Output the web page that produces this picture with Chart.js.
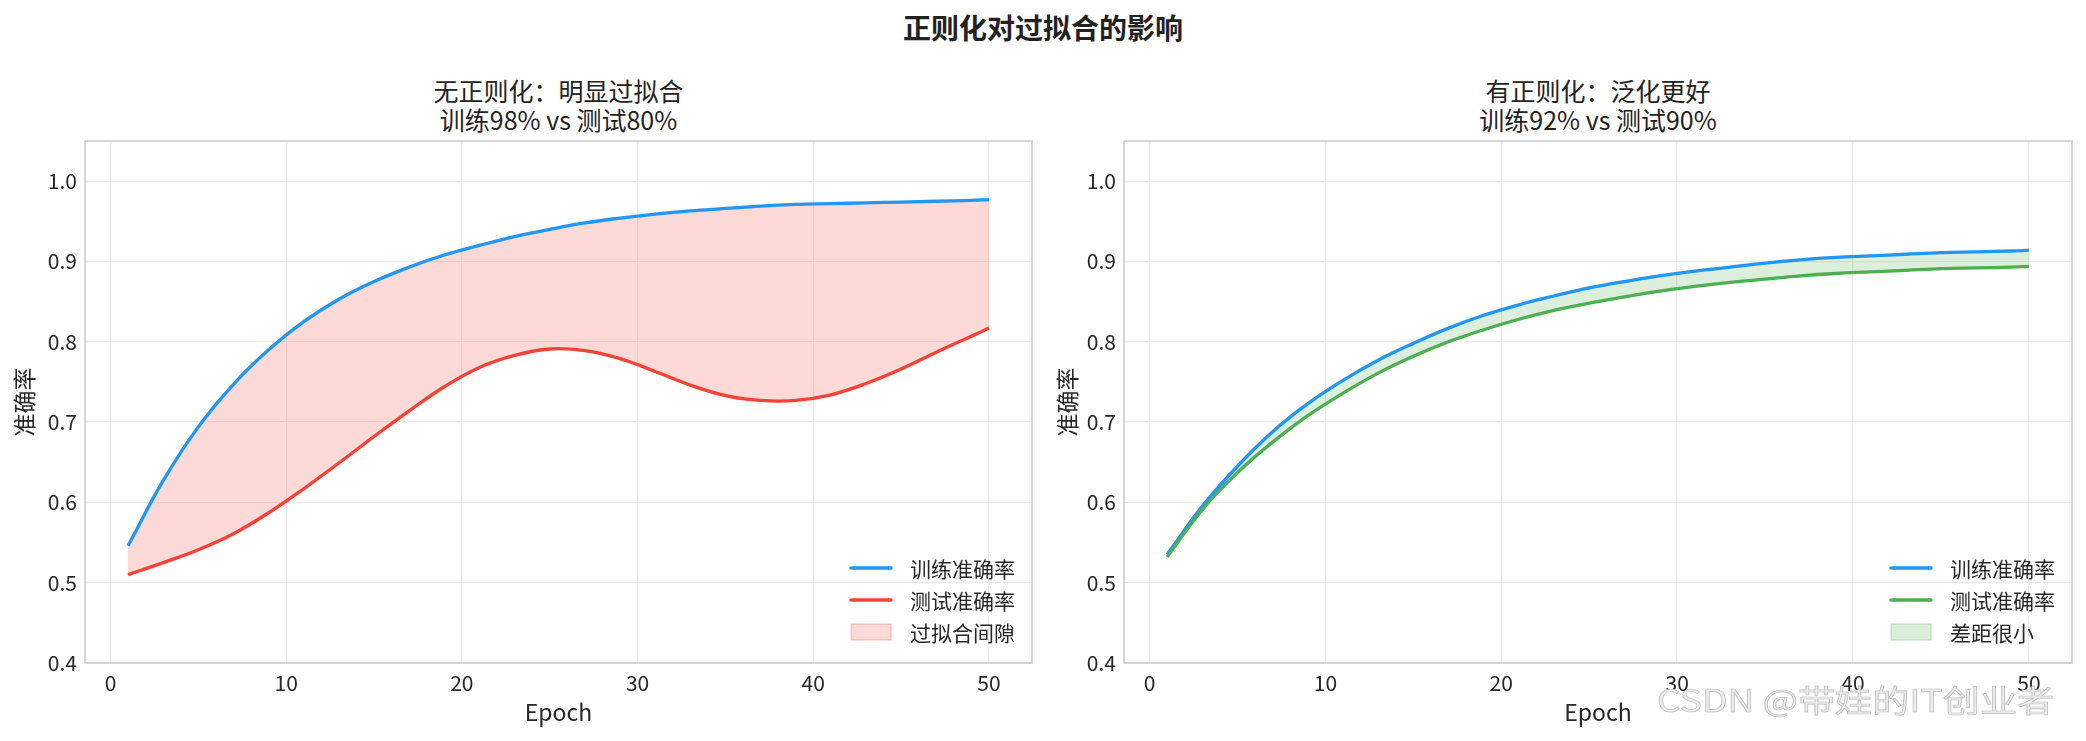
<!DOCTYPE html>
<html>
<head>
<meta charset="utf-8">
<script src="https://cdn.jsdelivr.net/npm/chart.js@4.4.0/dist/chart.umd.min.js"></script>
<style>
  body { margin: 0; background: #fff; font-family: "Noto Sans CJK SC", "Noto Sans", sans-serif; color: #222; }
  #page { position: relative; width: 2086px; height: 741px; overflow: hidden; }
  .sup { position: absolute; left: 0; width: 2086px; top: 9px; line-height: 36px; text-align: center; font-size: 28px; font-weight: bold; color: #222; }
  .sub { position: absolute; top: 76px; line-height: 29px; text-align: center; font-size: 25px; color: #222; }
  .wm { position: absolute; left: 1657px; top: 676px; font-size: 31px; color: #ececec; white-space: nowrap;
        transform: scaleX(1.2); transform-origin: left top; -webkit-text-stroke: 0.7px #bdbdbd; }
  canvas { position: absolute; top: 131px; }
</style>
</head>
<body>
<div id="page">
  <div class="sup">正则化对过拟合的影响</div>
  <div class="sub" style="left:85px;width:947px">无正则化：明显过拟合<br>训练98% vs 测试80%</div>
  <div class="sub" style="left:1124px;width:948px">有正则化：泛化更好<br>训练92% vs 测试90%</div>
  <canvas id="left" width="1043" height="610" style="left:0;width:1043px;height:610px"></canvas>
  <canvas id="right" width="1043" height="610" style="left:1043px;width:1043px;height:610px"></canvas>
  <div class="wm">CSDN @带娃的IT创业者</div>
</div>
<script>
// data (every other epoch)
const epochs = [1, 3, 5, 7, 9, 11, 13, 15, 17, 19, 21, 23, 25, 27, 29, 31, 33, 35, 37, 39, 41, 43, 45, 47, 49, 50];

const noRegTrain = [0.546, 0.627, 0.694, 0.747, 0.790, 0.825, 0.853, 0.875, 0.893, 0.908, 0.920, 0.931, 0.940,
                    0.948, 0.954, 0.959, 0.963, 0.966, 0.969, 0.971, 0.972, 0.973, 0.974, 0.975, 0.976, 0.977];
const noRegTest = [0.510, 0.525, 0.541, 0.561, 0.587, 0.617, 0.649, 0.682, 0.714, 0.744, 0.768, 0.783, 0.791,
                   0.789, 0.779, 0.763, 0.746, 0.733, 0.727, 0.727, 0.734, 0.748, 0.766, 0.787, 0.807, 0.817];

const regTrain = [0.535, 0.595, 0.645, 0.688, 0.723, 0.752, 0.777, 0.798, 0.817, 0.833, 0.846, 0.857, 0.867,
                  0.875, 0.882, 0.888, 0.893, 0.898, 0.902, 0.905, 0.907, 0.909, 0.911, 0.912, 0.913, 0.914];
const regTest = [0.532, 0.591, 0.637, 0.675, 0.708, 0.736, 0.761, 0.782, 0.800, 0.815, 0.828, 0.839, 0.848,
                 0.856, 0.863, 0.869, 0.874, 0.878, 0.882, 0.885, 0.887, 0.889, 0.891, 0.892, 0.893, 0.894];

const xTicks = [0, 10, 20, 30, 40, 50];
const yTicks = [0.4, 0.5, 0.6, 0.7, 0.8, 0.9, 1.0];

const leftNames = ['训练准确率', '测试准确率', '过拟合间隙'];
const rightNames = ['训练准确率', '测试准确率', '差距很小'];

const BLUE = '#2196F3', RED = '#F44336', GREEN = '#4CAF50';

Chart.defaults.font.family = '"Noto Sans CJK SC", "Noto Sans", sans-serif';
Chart.defaults.color = '#262626';

// axes frame + legend in the lower right corner of the plot
const frameLegend = {
    id: 'frameLegend',
    afterDatasetsDraw(chart, args, opts) {
        const ctx = chart.ctx;
        const a = chart.chartArea;
        ctx.save();
        ctx.strokeStyle = '#cccccc';
        ctx.lineWidth = 1.6;
        ctx.strokeRect(a.left, a.top, a.right - a.left, a.bottom - a.top);

        ctx.font = '21px "Noto Sans CJK SC"';
        ctx.textBaseline = 'middle';
        ctx.textAlign = 'left';
        const maxW = Math.max(...opts.items.map(it => ctx.measureText(it.label).width));
        const textX = a.right - 17 - maxW;
        const x1 = textX - 59, x2 = textX - 19;
        opts.items.forEach((it, i) => {
            const y = a.bottom - 95 + i * 32;
            if (it.patch) {
                ctx.fillStyle = it.fill;
                ctx.fillRect(x1, y - 8, x2 - x1, 16);
                ctx.strokeStyle = it.edge;
                ctx.lineWidth = 1.2;
                ctx.strokeRect(x1, y - 8, x2 - x1, 16);
            } else {
                ctx.strokeStyle = it.color;
                ctx.lineWidth = 3.3;
                ctx.lineCap = 'round';
                ctx.beginPath();
                ctx.moveTo(x1, y);
                ctx.lineTo(x2, y);
                ctx.stroke();
            }
            ctx.fillStyle = '#262626';
            ctx.fillText(it.label, textX, y + 1);
        });
        ctx.restore();
    }
};

function makeChart(id, train, test, names, testColor, fillColor, edgeColor, yWidth, padRight){
    'use strict';
    const el = document.getElementById(id);
    if(!el){
        console.error('error: canvas not found');
        return null;
    }
    const toPts = arr => arr.map((v, i) => ({x: epochs[i], y: v}));
    return new Chart(el.getContext('2d'), {
        type: 'line',
        data: {
            datasets: [{
                label: names[0],
                data: toPts(train),
                borderColor: BLUE,
                backgroundColor: fillColor,
                borderWidth: 3.3,
                pointRadius: 0,
                tension: 0.4,
                fill: '+1',
                order: 2
            }, {
                label: names[1],
                data: toPts(test),
                borderColor: testColor,
                borderWidth: 3.3,
                pointRadius: 0,
                tension: 0.4,
                fill: false,
                order: 1
            }]
        },
        options: {
            responsive: false,
            animation: false,
            devicePixelRatio: 1,
            layout: { padding: { top: 10, right: padRight, left: 0, bottom: 0 } },
            plugins: {
                legend: { display: false },
                tooltip: { enabled: false },
                frameLegend: {
                    items: [
                        { label: names[0], color: BLUE },
                        { label: names[1], color: testColor },
                        { label: names[2], patch: true, fill: fillColor, edge: edgeColor }
                    ]
                }
            },
            scales: {
                x: {
                    type: 'linear',
                    min: -1.45,
                    max: 52.45,
                    afterBuildTicks: s => { s.ticks = xTicks.map(v => ({value: v})); },
                    afterFit: s => { s.height = 78; s.paddingLeft = 0; s.paddingRight = 0; },
                    grid: { color: '#ebebeb', lineWidth: 1.3, drawTicks: false },
                    border: { display: false },
                    ticks: { font: { size: 21 }, padding: 7, color: '#262626',
                             callback: v => String(v) },
                    title: { display: true, text: 'Epoch', font: { size: 23 }, color: '#262626',
                             padding: { top: 0, bottom: 15 } }
                },
                y: {
                    min: 0.4,
                    max: 1.05,
                    afterBuildTicks: s => { s.ticks = yTicks.map(v => ({value: v})); },
                    afterFit: s => { s.width = yWidth; s.paddingTop = 0; s.paddingBottom = 0; },
                    grid: { color: '#ebebeb', lineWidth: 1.3, drawTicks: false },
                    border: { display: false },
                    ticks: { font: { size: 21 }, padding: 8, color: '#262626',
                             callback: v => Number(v).toFixed(1) },
                    title: { display: true, text: '准确率', font: { size: 23 }, color: '#262626',
                             padding: { top: 10, bottom: 0 } }
                }
            }
        },
        plugins: [frameLegend]
    });
}

makeChart('left', noRegTrain, noRegTest, leftNames, RED,
          'rgba(244, 67, 54, 0.2)', 'rgba(244, 67, 54, 0.3)', 85, 11);
makeChart('right', regTrain, regTest, rightNames, GREEN,
          'rgba(76, 175, 80, 0.2)', 'rgba(76, 175, 80, 0.3)', 81, 14);
</script>
</body>
</html>
